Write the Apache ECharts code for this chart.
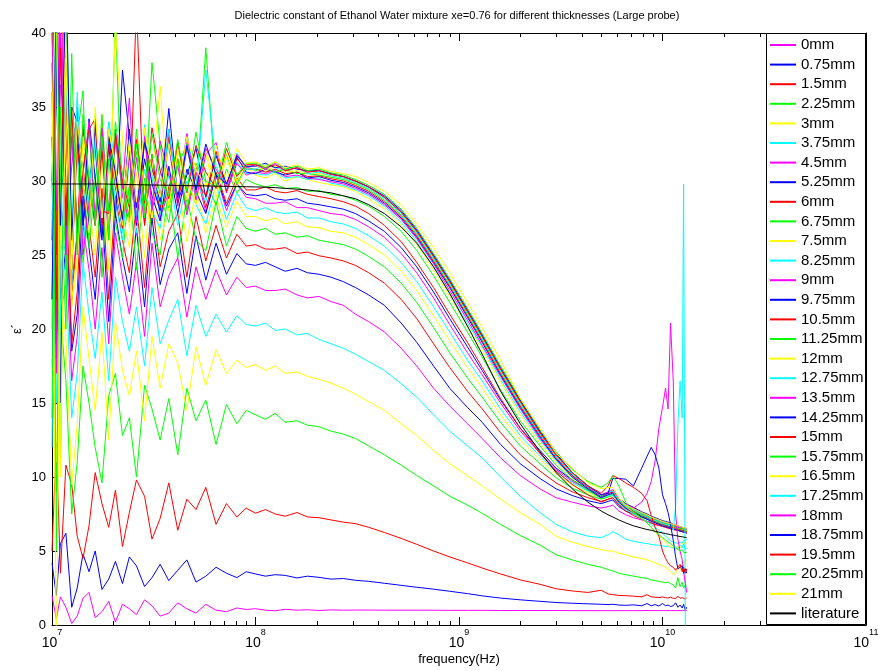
<!DOCTYPE html>
<html>
<head>
<meta charset="utf-8">
<script src="https://cdn.jsdelivr.net/npm/echarts/dist/echarts.min.js"></script>
<style>
html, body { margin: 0; padding: 0; background: #fff; }
#chart { width: 882px; height: 671px; }
</style>
</head>
<body>
<div id="chart"></div>
<script>
// Frequency grid in Hz: dense in the noisy first decade, finer again near the upper end.
const freqLow = [1.0e7, 1.05e7, 1.1e7, 1.17e7, 1.25e7, 1.33e7, 1.42e7, 1.52e7, 1.63e7, 1.76e7,
  1.9e7, 2.05e7, 2.22e7, 2.4e7, 2.6e7, 2.85e7, 3.1e7, 3.4e7, 3.75e7, 4.15e7,
  4.6e7, 5.1e7, 5.7e7, 6.4e7, 7.2e7, 8.1e7, 9.0e7];
const freqMid = [1.0e8, 1.12e8, 1.25e8, 1.4e8, 1.6e8, 1.8e8, 2.05e8, 2.35e8, 2.7e8, 3.1e8,
  3.6e8, 4.3e8, 5.2e8, 6.2e8, 7.5e8, 9.0e8, 1.1e9, 1.3e9, 1.6e9, 2.0e9,
  2.5e9, 3.0e9, 3.6e9, 4.3e9, 5.0e9, 5.4e9, 5.7e9, 6.1e9, 6.6e9, 7.2e9];
const freqTail = [7.9e9, 8.4e9, 8.8e9, 9.2e9, 9.6e9, 1.0e10, 1.035e10, 1.065e10, 1.095e10, 1.13e10,
  1.16e10, 1.19e10, 1.22e10, 1.25e10, 1.27e10, 1.295e10, 1.315e10];

// Legend labels (layer thickness)
const thickness = ['0mm', '0.75mm', '1.5mm', '2.25mm', '3mm', '3.75mm', '4.5mm', '5.25mm', '6mm',
  '6.75mm', '7.5mm', '8.25mm', '9mm', '9.75mm', '10.5mm', '11.25mm', '12mm', '12.75mm', '13.5mm',
  '14.25mm', '15mm', '15.75mm', '16.5mm', '17.25mm', '18mm', '18.75mm', '19.5mm', '20.25mm', '21mm'];

// Measured ε' per thickness (low decade | mid | tail)
const eps_0mm = [2.0, 0.4, 1.9, 1.2, 0.1, 0.6, 1.8, 2.2, 0.5, 0.9, 1.6, 0.2, 1.4, 1.1, 0.7, 1.7, 1.3, 0.6, 0.8, 1.5, 1.1, 0.8, 1.4, 1.0, 0.9, 1.15, 1.05,
  1.1, 1.0, 0.96, 1.06, 1.0, 1.03, 0.98, 1.02, 1.0, 1.01, 1.01, 1.0, 1.0, 1.0, 1.0, 0.99, 0.99, 0.99, 0.98, 0.98, 0.98, 0.98, 0.97, 0.97, 0.97, 0.97, 0.97, 0.97, 0.97, 0.97,
  0.97, 0.98, 0.97, 0.98, 0.97, 0.98, 0.97, 0.98, 0.97, 0.98, 0.97, 0.98, 0.97, 0.99, 0.97, 0.98, 0.98];
const eps_075mm = [4.2, 2.0, 5.5, 6.2, 1.2, 2.5, 4.8, 3.6, 5.0, 2.4, 3.1, 4.3, 2.8, 4.6, 4.0, 2.6, 3.2, 4.1, 3.0, 3.7, 4.4, 2.9, 3.3, 3.9, 3.5, 3.2, 3.6,
  3.45, 3.3, 3.4, 3.35, 3.18, 3.3, 3.22, 3.1, 3.14, 3.02, 2.95, 2.82, 2.68, 2.55, 2.42, 2.28, 2.12, 1.97, 1.82, 1.7, 1.6, 1.52, 1.47, 1.43, 1.4, 1.38, 1.4, 1.35, 1.33, 1.36,
  1.3, 1.45, 1.3, 1.38, 1.28, 1.45, 1.3, 1.35, 1.25, 1.3, 1.5, 1.2, 1.35, 1.15, 1.4, 1.0, 1.2];
const eps_15mm = [5.0, 12.3, 3.5, 10.8, 9.5, 6.0, 4.5, 6.7, 10.3, 8.2, 6.6, 9.1, 5.3, 7.6, 9.8, 8.7, 5.8, 7.2, 9.6, 6.4, 8.5, 7.8, 9.3, 6.8, 8.2, 7.3, 7.9,
  7.55, 7.8, 7.5, 7.35, 7.6, 7.3, 7.25, 7.1, 6.95, 6.85, 6.6, 6.25, 5.85, 5.45, 5.0, 4.6, 4.2, 3.85, 3.45, 3.05, 2.75, 2.45, 2.3, 2.2, 2.35, 2.1, 2.05, 2.0, 1.98, 1.95,
  1.9, 2.05, 1.9, 1.88, 1.85, 1.9, 1.85, 1.82, 1.88, 1.8, 1.78, 1.95, 1.8, 1.85, 1.95, 1.75, 1.85];
const eps_225mm = [18.0, 9.0, 21.0, 16.5, 7.5, 11.0, 17.5, 15.0, 12.0, 9.6, 15.5, 17.0, 12.8, 14.0, 10.0, 16.2, 14.6, 12.5, 15.3, 11.5, 16.0, 13.8, 15.2, 12.2, 14.9, 13.6, 14.5,
  14.2, 13.9, 14.3, 13.7, 13.8, 13.5, 13.4, 13.1, 12.9, 12.6, 12.1, 11.5, 10.8, 10.1, 9.4, 8.7, 8.1, 7.55, 6.8, 6.05, 5.4, 4.75, 4.4, 4.1, 3.9, 3.75, 3.65, 3.5, 3.4, 3.3,
  3.2, 3.15, 3.05, 3.0, 2.95, 2.9, 2.85, 2.9, 2.8, 2.7, 2.5, 3.2, 2.6, 2.9, 2.5, 2.7, 2.6];
const eps_3mm = [24.0, 11.0, 22.0, 19.5, 9.5, 13.5, 21.5, 18.0, 14.5, 19.8, 12.5, 20.5, 17.2, 15.5, 18.5, 13.8, 19.5, 16.0, 19.0, 17.7, 14.5, 18.8, 16.2, 18.6, 17.0, 17.9, 17.4,
  17.6, 17.2, 17.5, 17.0, 17.1, 16.8, 16.6, 16.35, 16.0, 15.6, 15.1, 14.5, 13.6, 12.8, 11.8, 10.9, 10.1, 9.4, 8.5, 7.6, 6.8, 6.0, 5.6, 5.3, 5.1, 5.0, 5.0, 4.85, 4.75, 4.6,
  4.5, 4.4, 4.3, 4.2, 4.1, 4.0, 3.9, 3.8, 3.6, 3.4, 3.5, 3.9, 3.7, 4.2, 4.0, 4.4, 4.3];
const eps_375mm = [28.0, 15.0, 26.0, 23.5, 14.0, 17.0, 24.5, 21.0, 18.0, 22.5, 16.5, 23.5, 20.5, 18.5, 21.5, 17.5, 22.8, 19.0, 20.6, 22.0, 18.2, 21.6, 19.5, 21.0, 19.8, 20.9, 20.3,
  20.2, 20.4, 19.9, 20.0, 19.6, 19.7, 19.3, 19.0, 18.7, 18.3, 17.8, 17.2, 16.3, 15.4, 14.2, 13.1, 12.1, 11.3, 10.0, 8.7, 7.6, 6.8, 6.3, 6.0, 5.9, 6.1, 6.3, 6.1, 5.8, 5.65,
  5.55, 5.5, 5.45, 5.4, 5.4, 5.35, 5.3, 5.35, 5.25, 5.2, 5.3, 5.15, 5.4, 5.2, 5.5, 5.1, 5.2];
const eps_45mm = [30.0, 17.0, 28.5, 26.0, 16.5, 19.5, 27.0, 24.0, 20.0, 25.5, 19.0, 26.5, 23.5, 21.0, 24.5, 19.5, 25.8, 21.5, 23.6, 24.8, 20.8, 24.2, 22.0, 24.0, 22.3, 23.5, 22.8,
  22.9, 22.6, 22.6, 22.7, 22.3, 22.1, 22.2, 21.85, 21.6, 21.0, 20.5, 19.8, 18.7, 17.5, 16.0, 14.8, 13.6, 12.6, 11.3, 10.1, 9.2, 8.6, 8.3, 8.05, 7.9, 8.0, 8.1, 7.7, 7.45, 7.25,
  7.1, 7.0, 6.9, 6.8, 6.75, 6.7, 6.6, 6.55, 6.5, 6.5, 6.45, 6.4, 6.35, 6.35, 6.3, 6.3, 6.25];
const eps_525mm = [33.0, 19.0, 31.0, 28.5, 18.5, 21.0, 29.0, 25.5, 22.0, 28.2, 20.5, 27.8, 24.8, 22.5, 26.8, 21.5, 27.5, 23.0, 25.4, 26.5, 22.4, 26.3, 23.3, 25.8, 23.7, 25.1, 24.4,
  24.3, 24.5, 24.2, 23.9, 24.1, 23.8, 23.7, 23.5, 23.2, 22.8, 22.3, 21.6, 20.4, 19.1, 17.5, 16.0, 14.7, 13.7, 12.2, 10.9, 9.9, 9.2, 8.75, 8.4, 8.2, 8.35, 8.45, 8.0, 7.7, 7.5,
  7.3, 7.15, 7.05, 6.95, 6.85, 6.8, 6.7, 6.65, 6.6, 6.55, 6.5, 6.45, 6.4, 6.4, 6.35, 6.35, 6.3];
const eps_6mm = [36.0, 20.0, 40.0, 30.0, 19.0, 22.5, 31.0, 27.0, 23.5, 29.5, 22.0, 29.0, 26.0, 23.8, 28.5, 22.8, 28.6, 24.2, 26.6, 27.8, 23.5, 27.6, 24.6, 27.0, 24.8, 26.4, 25.6,
  25.7, 25.4, 25.4, 25.5, 25.1, 25.2, 24.95, 24.8, 24.6, 24.3, 23.8, 23.1, 22.0, 20.7, 19.0, 17.4, 15.8, 14.6, 13.0, 11.5, 10.4, 9.6, 9.0, 8.6, 8.35, 8.5, 8.6, 8.15, 7.85, 7.6,
  7.4, 7.25, 7.1, 7.0, 6.9, 6.85, 6.75, 6.7, 6.65, 6.6, 6.55, 6.5, 6.45, 6.4, 6.4, 6.35, 6.3];
const eps_675mm = [22.0, 38.0, 21.0, 23.0, 33.5, 32.0, 24.5, 28.0, 30.5, 23.5, 31.5, 27.2, 24.8, 29.8, 24.0, 30.2, 26.5, 25.0, 29.5, 24.8, 28.9, 26.0, 25.3, 28.6, 25.6, 27.6, 26.8,
  26.6, 26.8, 26.4, 26.5, 26.2, 26.3, 26.0, 25.85, 25.7, 25.4, 24.9, 24.2, 23.1, 21.8, 20.1, 18.4, 16.7, 15.4, 13.7, 12.1, 10.9, 9.95, 9.25, 8.8, 8.5, 8.65, 8.75, 8.3, 7.95, 7.7,
  7.45, 7.3, 7.15, 7.05, 6.95, 6.9, 6.8, 6.75, 6.7, 6.65, 6.6, 6.55, 6.5, 6.45, 6.45, 6.4, 6.35];
const eps_75mm = [40.0, 23.0, 35.0, 33.0, 21.5, 24.5, 32.5, 28.5, 25.0, 31.8, 24.0, 31.0, 27.8, 25.5, 30.6, 24.8, 30.3, 26.0, 28.2, 29.8, 25.9, 29.5, 26.5, 28.9, 26.9, 28.6, 27.6,
  27.6, 27.3, 27.5, 27.1, 27.25, 26.9, 26.85, 26.6, 26.5, 26.2, 25.7, 25.0, 23.9, 22.6, 20.9, 19.2, 17.4, 16.0, 14.2, 12.5, 11.2, 10.2, 9.45, 8.95, 8.6, 8.75, 8.85, 8.4, 8.05, 7.8,
  7.5, 7.35, 7.2, 7.1, 7.0, 6.95, 6.85, 6.8, 6.75, 6.7, 6.65, 6.6, 6.55, 6.5, 6.5, 6.45, 6.4];
const eps_825mm = [25.0, 40.0, 24.0, 26.0, 34.0, 33.0, 25.5, 29.0, 32.0, 26.3, 32.8, 28.6, 26.0, 31.5, 26.5, 30.8, 28.0, 26.8, 30.5, 27.0, 30.0, 28.4, 27.1, 29.8, 27.4, 29.2, 28.2,
  28.0, 28.2, 27.9, 27.8, 27.9, 27.5, 27.5, 27.25, 27.1, 26.8, 26.3, 25.6, 24.5, 23.2, 21.5, 19.8, 17.9, 16.5, 14.6, 12.8, 11.4, 10.35, 9.6, 9.05, 8.65, 8.8, 8.9, 8.45, 8.1, 7.85,
  7.55, 7.4, 7.25, 7.15, 7.05, 6.95, 6.9, 6.85, 6.8, 6.7, 6.65, 6.6, 6.6, 6.55, 6.5, 6.5, 6.45];
const eps_9mm = [41.0, 24.0, 36.5, 34.0, 23.0, 26.5, 33.8, 29.5, 27.0, 32.5, 26.0, 33.5, 29.0, 27.2, 31.6, 27.0, 31.8, 27.5, 29.3, 31.0, 27.7, 30.6, 27.9, 30.4, 28.0, 29.8, 28.9,
  28.8, 28.5, 28.5, 28.6, 28.2, 28.2, 28.0, 27.8, 27.7, 27.4, 26.9, 26.2, 25.1, 23.8, 22.1, 20.3, 18.4, 16.9, 15.0, 13.1, 11.6, 10.5, 9.7, 9.15, 8.7, 8.85, 8.95, 8.5, 8.15, 7.9,
  7.6, 7.45, 7.3, 7.2, 7.1, 7.0, 6.95, 6.9, 6.85, 6.75, 6.7, 6.65, 6.6, 6.6, 6.55, 6.5, 6.5];
const eps_975mm = [26.0, 38.0, 22.0, 25.5, 35.0, 34.0, 27.0, 30.0, 32.5, 26.5, 33.0, 29.6, 26.8, 32.0, 27.5, 31.5, 29.0, 27.3, 31.0, 27.8, 30.8, 29.3, 27.8, 30.4, 28.3, 29.8, 29.1,
  29.0, 29.1, 28.8, 28.7, 28.8, 28.5, 28.4, 28.25, 28.1, 27.8, 27.3, 26.6, 25.5, 24.2, 22.5, 20.7, 18.8, 17.2, 15.2, 13.3, 11.8, 10.6, 9.8, 9.2, 8.75, 8.9, 9.0, 8.55, 8.2, 7.95,
  7.65, 7.5, 7.35, 7.25, 7.15, 7.05, 7.0, 6.95, 6.9, 6.8, 6.75, 6.7, 6.65, 6.6, 6.6, 6.55, 6.5];
const eps_105mm = [45, 26, 43, 34.5, 22, 26.5, 33.5, 30.0, 27.0, 32.0, 26.5, 33.0, 29.8, 27.5, 42.0, 27.0, 31.8, 27.8, 29.6, 31.5, 28.0, 31.0, 28.2, 30.6, 28.5, 30.2, 29.4,
  29.4, 29.6, 29.3, 29.2, 29.35, 29.1, 28.95, 28.8, 28.6, 28.3, 27.8, 27.0, 25.9, 24.5, 22.8, 21.0, 19.1, 17.4, 15.3, 13.3, 11.6, 10.4, 9.5, 8.8, 8.3, 8.5, 8.6, 8.1, 7.7, 7.4,
  7.15, 7.0, 6.9, 6.8, 6.72, 6.65, 6.6, 6.55, 6.5, 6.45, 6.4, 6.38, 6.35, 6.3, 6.28, 6.25, 6.2];
const eps_1125mm = [20, 45, 10, 41, 24, 33, 36.1, 25.5, 30.0, 33.5, 26.0, 41.0, 27.0, 29.6, 32.0, 27.5, 31.8, 29.0, 27.2, 31.5, 28.0, 31.2, 29.9, 28.4, 30.8, 29.2, 30.1,
  29.8, 29.6, 29.75, 29.5, 29.55, 29.3, 29.35, 29.1, 29.0, 28.7, 28.3, 27.6, 26.6, 25.3, 23.6, 21.8, 19.8, 18.1, 15.9, 13.8, 12.1, 10.8, 9.8, 9.1, 8.55, 8.75, 8.85, 8.35, 7.95, 7.65,
  7.35, 7.2, 7.05, 6.95, 6.85, 6.78, 6.72, 6.66, 6.6, 6.55, 6.5, 6.45, 6.42, 6.38, 6.35, 6.32, 6.3];
const eps_12mm = [41, 24, 44, 35, 22, 25, 33.0, 30.5, 28.0, 34.5, 26.5, 40.5, 32.8, 26.8, 33.5, 29.5, 27.5, 32.8, 28.0, 32.0, 30.2, 28.4, 31.8, 28.9, 31.6, 29.6, 31.0,
  30.4, 30.2, 30.5, 30.0, 30.3, 30.1, 29.9, 29.75, 29.6, 29.3, 28.8, 28.1, 27.0, 25.7, 24.0, 22.2, 20.2, 18.6, 16.4, 14.2, 12.3, 11.0, 9.9, 9.2, 8.6, 8.8, 8.9, 8.4, 8.0, 7.7,
  7.45, 7.3, 7.15, 7.05, 6.95, 6.85, 6.8, 6.75, 6.7, 6.6, 6.55, 6.5, 6.5, 6.45, 6.45, 6.4, 6.35];
const eps_1275mm = [12, 44, 30, 46, 23, 36, 26.0, 29.0, 34.5, 27.0, 33.0, 31.0, 26.5, 32.8, 27.5, 33.8, 30.2, 27.8, 32.5, 28.4, 33.2, 30.0, 28.6, 31.8, 29.4, 31.3, 30.5,
  30.5, 30.4, 30.6, 30.2, 30.3, 30.1, 30.2, 29.85, 29.7, 29.4, 29.0, 28.3, 27.2, 25.9, 24.2, 22.4, 20.4, 18.8, 16.6, 14.4, 12.5, 11.1, 10.0, 9.2, 8.6, 8.75, 8.8, 8.2, 7.8, 7.5,
  7.2, 7.0, 6.8, 6.6, 6.4, 6.2, 6.0, 5.85, 5.7, 5.6, 5.55, 5.5, 5.6, 5.5, 5.7, 5.6, 5.8];
const eps_135mm = [44, 18, 40, 26, 31, 35.0, 25.0, 28.5, 33.0, 26.5, 34.0, 30.5, 27.2, 32.0, 27.0, 33.2, 28.0, 30.5, 32.4, 28.3, 32.6, 28.7, 31.8, 32.6, 29.2, 31.2, 30.4,
  30.6, 30.5, 30.7, 30.3, 30.4, 30.2, 30.1, 29.95, 29.8, 29.5, 29.1, 28.4, 27.4, 26.1, 24.4, 22.6, 20.6, 18.9, 16.8, 14.6, 12.6, 11.2, 10.1, 9.3, 8.7, 8.9, 9.1, 8.5, 8.1, 7.8,
  7.5, 7.35, 7.2, 7.1, 7.0, 6.9, 6.85, 6.8, 6.75, 6.7, 6.65, 6.6, 6.55, 6.5, 6.5, 6.45, 6.45];
const eps_1425mm = [30, 42, 15, 38, 25, 33.5, 27.0, 34.2, 30.2, 26.0, 32.5, 27.5, 37.5, 33.0, 27.0, 32.8, 29.8, 28.0, 33.5, 28.6, 30.4, 32.2, 28.9, 31.7, 29.8, 31.6, 30.6,
  30.5, 30.8, 30.6, 30.4, 30.6, 30.2, 30.3, 30.05, 29.9, 29.6, 29.2, 28.5, 27.5, 26.2, 24.5, 22.8, 20.8, 19.1, 16.9, 14.7, 12.7, 11.2, 10.0, 9.2, 8.6, 8.8, 8.9, 8.3, 7.9, 7.6,
  7.3, 7.15, 7.0, 6.9, 6.8, 6.7, 6.65, 6.6, 6.55, 6.5, 6.45, 6.4, 6.35, 6.3, 6.3, 6.25, 6.2];
const eps_15mmB = [38, 22, 46, 36.8, 24, 32.5, 29.0, 26.5, 33.8, 27.0, 32.5, 30.2, 26.8, 33.5, 27.5, 32.6, 31.0, 28.2, 33.0, 28.5, 32.2, 30.1, 29.0, 32.0, 29.3, 31.5, 30.8,
  30.8, 30.6, 30.8, 30.5, 30.6, 30.3, 30.35, 30.15, 30.0, 29.7, 29.3, 28.6, 27.6, 26.3, 24.6, 22.9, 20.9, 19.2, 17.0, 14.8, 12.8, 11.3, 10.1, 9.3, 8.7, 8.9, 9.0, 8.4, 8.0, 7.7,
  7.4, 7.25, 7.1, 7.0, 6.9, 6.8, 6.75, 6.7, 6.65, 6.6, 6.55, 6.5, 6.45, 6.4, 6.4, 6.35, 6.3];
const eps_1575mm = [47, 5, 35, 24, 34, 26.0, 30.5, 33.5, 27.0, 34.5, 26.5, 32.6, 29.5, 27.5, 33.5, 28.0, 38.0, 32.4, 28.2, 31.0, 32.5, 29.0, 39.0, 29.5, 31.8, 29.8, 31.0,
  30.7, 30.9, 30.6, 30.8, 30.5, 30.5, 30.4, 30.25, 30.1, 29.8, 29.4, 28.7, 27.7, 26.4, 24.7, 23.0, 21.0, 19.3, 17.1, 14.9, 12.9, 11.4, 10.2, 9.35, 8.75, 8.95, 9.1, 8.5, 8.1, 7.8,
  7.5, 7.35, 7.2, 7.1, 7.0, 6.9, 6.85, 6.8, 6.75, 6.7, 6.6, 6.55, 6.5, 6.5, 6.45, 6.45, 6.4];
const eps_165mm = [36, -3, 28, 40, 25, 34.0, 30.0, 26.8, 33.0, 27.5, 34.0, 29.8, 27.0, 32.5, 28.0, 33.4, 30.3, 36.4, 28.3, 32.3, 28.7, 30.9, 32.2, 29.5, 31.9, 30.0, 31.2,
  31.0, 30.7, 31.0, 30.6, 30.7, 30.5, 30.5, 30.35, 30.2, 29.9, 29.5, 28.9, 27.9, 26.6, 24.9, 23.2, 21.2, 19.5, 17.3, 15.1, 13.0, 11.5, 10.3, 9.4, 8.8, 9.0, 9.1, 8.5, 8.0, 7.6,
  7.2, 6.9, 6.6, 6.3, 6.0, 5.8, 5.6, 5.4, 5.3, 5.2, 5.1, 5.3, 5.2, 5.5, 5.4, 5.6, 5.5];
const eps_1725mm = [26, 45, 20, 37, 27, 35.5, 30.0, 26.5, 33.0, 27.5, 34.0, 31.0, 28.0, 33.2, 27.6, 32.8, 30.5, 28.4, 33.5, 28.8, 32.4, 29.2, 37.5, 31.0, 29.6, 31.9, 30.8,
  30.8, 31.1, 30.9, 30.7, 30.9, 30.5, 30.6, 30.35, 30.2, 29.9, 29.5, 28.8, 27.8, 26.5, 24.8, 23.1, 21.1, 19.4, 17.2, 15.0, 12.9, 11.4, 10.2, 9.35, 8.75, 8.95, 9.05, 8.45, 8.05, 7.75,
  7.45, 7.3, 7.15, 7.05, 6.95, 6.85, 6.8, 6.75, 6.7, 6.4, 8.0, 13.5, 16.5, 14.0, 29.8, -1, null];
const eps_18mm = [40, 28, 46, 25, 33, 27.0, 30.5, 34.0, 27.5, 33.6, 28.0, 32.8, 29.5, 35.6, 27.2, 33.0, 28.3, 32.7, 30.4, 28.8, 33.2, 29.2, 32.2, 30.8, 29.6, 31.8, 30.9,
  31.1, 30.8, 31.2, 30.7, 30.9, 30.6, 30.7, 30.45, 30.3, 30.0, 29.6, 28.9, 27.9, 26.6, 24.9, 23.2, 21.2, 19.5, 17.3, 15.1, 13.0, 11.5, 10.3, 9.4, 8.8, 9.0, 9.15, 8.55, 8.15, 7.9,
  8.3, 8.9, 9.7, 11.1, 13.3, 14.7, 16.0, 14.6, 20.4, 16.4, 7.5, 5.8, 5.0, 4.4, 3.6, 2.8, 2.2];
const eps_1875mm = [22, 43, 27, 44, 26, 33.8, 30.5, 27.0, 34.0, 27.8, 33.0, 30.6, 27.4, 33.5, 28.2, 32.6, 30.8, 28.6, 34.9, 28.9, 32.4, 29.4, 32.5, 30.4, 29.8, 31.7, 31.0,
  31.0, 31.2, 30.9, 31.0, 30.8, 30.7, 30.7, 30.5, 30.3, 30.0, 29.6, 29.0, 28.0, 26.7, 25.0, 23.3, 21.3, 19.6, 17.4, 15.2, 13.1, 11.6, 10.3, 9.4, 8.8, 8.9, 9.9, 9.9, 9.85, 9.4,
  10.6, 11.4, 12.0, 11.5, 10.6, 8.8, 8.2, 7.6, 6.8, 5.7, 4.6, 3.8, 3.9, 4.0, 3.5, 3.8, 3.5];
const eps_195mm = [46, 25, 39, 27, 35, 26.5, 30.8, 33.5, 34.2, 28.0, 27.8, 33.2, 30.0, 28.2, 32.8, 28.5, 33.6, 30.7, 28.8, 32.6, 29.2, 32.4, 30.6, 29.5, 32.2, 30.3, 31.1,
  31.1, 30.9, 31.1, 30.7, 30.9, 30.6, 30.7, 30.45, 30.3, 30.0, 29.6, 28.9, 27.9, 26.6, 24.9, 23.2, 21.2, 19.5, 17.3, 15.1, 13.0, 11.5, 10.3, 9.4, 8.9, 9.4, 10.1, 9.9, 9.6, 9.3,
  8.9, 8.4, 7.4, 6.6, 6.0, 5.0, 4.5, 4.2, 4.0, 3.9, 3.7, 3.9, 4.1, 3.6, 3.9, 3.5, 3.8];
const eps_2025mm = [14, 40, 30, 20, 38.6, 25.0, 34.5, 30.2, 27.5, 33.0, 28.0, 34.0, 30.5, 28.4, 32.5, 28.7, 33.2, 30.1, 29.0, 32.8, 29.3, 33.3, 30.0, 29.6, 32.6, 30.4, 31.2,
  31.2, 30.9, 31.3, 30.8, 31.0, 30.7, 30.8, 30.55, 30.4, 30.1, 29.7, 29.1, 28.1, 26.8, 25.1, 23.4, 21.4, 19.7, 17.5, 15.3, 13.2, 11.7, 10.5, 9.7, 9.3, 9.6, 10.1, 9.4, 8.3, 7.6,
  7.2, 6.9, 6.6, 6.3, 6.1, 5.9, 5.75, 5.6, 5.5, 5.35, 5.2, 5.1, 5.0, 5.1, 4.9, 5.0, 4.9];
const eps_21mm = [33, 46, 10, 38.3, 24, 34.0, 30.6, 26.5, 35.0, 27.5, 33.5, 31.0, 28.0, 32.8, 28.6, 33.6, 30.6, 28.9, 32.5, 29.3, 33.0, 30.8, 29.6, 32.4, 30.0, 32.2, 31.2,
  31.3, 31.0, 31.3, 30.9, 31.1, 30.8, 30.9, 30.65, 30.5, 30.3, 29.9, 29.3, 28.4, 27.1, 25.5, 23.8, 21.8, 20.1, 17.9, 15.3, 13.3, 11.6, 10.6, 9.6, 9.2, 9.3, 9.3, 8.6, 8.1, 7.85,
  7.6, 7.45, 7.3, 7.2, 7.1, 7.0, 6.95, 6.9, 6.85, 6.8, 6.75, 6.7, 6.65, 6.6, 6.6, 6.55, 6.5];

// Reference values from the literature
const literature = [29.8, 29.8, 29.8, 29.8, 29.8, 29.8, 29.8, 29.8, 29.8, 29.8, 29.79, 29.78, 29.77, 29.76, 29.75, 29.74, 29.73, 29.72, 29.71, 29.7, 29.69, 29.68, 29.67, 29.65, 29.64, 29.62, 29.61,
  29.6, 29.58, 29.55, 29.5, 29.45, 29.4, 29.3, 29.2, 29.0, 28.8, 28.4, 27.8, 26.9, 25.8, 24.2, 22.4, 20.2, 18.3, 15.8, 13.6, 11.7, 10.3, 9.2, 8.3, 7.7, 7.45, 7.3, 7.1, 6.9, 6.7,
  6.55, 6.45, 6.4, 6.33, 6.27, 6.22, 6.18, 6.14, 6.1, 6.07, 6.04, 6.01, 5.98, 5.96, 5.94, 5.92, 5.9];

const measured = [eps_0mm, eps_075mm, eps_15mm, eps_225mm, eps_3mm, eps_375mm, eps_45mm, eps_525mm,
  eps_6mm, eps_675mm, eps_75mm, eps_825mm, eps_9mm, eps_975mm, eps_105mm, eps_1125mm, eps_12mm,
  eps_1275mm, eps_135mm, eps_1425mm, eps_15mmB, eps_1575mm, eps_165mm, eps_1725mm, eps_18mm,
  eps_1875mm, eps_195mm, eps_2025mm, eps_21mm];

// Line colour cycle
const colorCycle = ['#ff00ff', '#0000ff', '#ff0000', '#00ff00', '#ffff00', '#00ffff'];

// Minor tick positions on the logarithmic frequency axis
const xMinorTicks = [2e7, 3e7, 4e7, 5e7, 6e7, 7e7, 8e7, 9e7,
  2e8, 3e8, 4e8, 5e8, 6e8, 7e8, 8e8, 9e8,
  2e9, 3e9, 4e9, 5e9, 6e9, 7e9, 8e9, 9e9,
  2e10, 3e10, 4e10, 5e10, 6e10, 7e10, 8e10, 9e10];

const freq = freqLow.concat(freqMid, freqTail);
const FONT = '"Liberation Sans", Arial, Helvetica, sans-serif';

function lineSeries(name, vals, color) {
  return {
    name: name,
    type: 'line',
    data: freq.map((f, i) => [f, vals[i]]),
    symbol: 'none',
    showSymbol: false,
    silent: true,
    clip: true,
    lineStyle: { width: 1, color: color },
    itemStyle: { color: color },
    emphasis: { disabled: true }
  };
}

const series = measured.map((vals, k) => lineSeries(thickness[k], vals, colorCycle[k % colorCycle.length]));
series.push(lineSeries('literature', literature, '#000000'));

// Minor ticks drawn inward on the bottom and top edges
series.push({
  type: 'custom',
  silent: true,
  clip: false,
  z: 5,
  data: xMinorTicks.map(f => [f, 0]),
  encode: { x: 0, y: 1 },
  renderItem: function (params, api) {
    const b = api.coord([api.value(0), 0]);
    const t = api.coord([api.value(0), 40]);
    const x = Math.round(b[0]) + 0.5;
    return {
      type: 'group',
      children: [
        { type: 'line', shape: { x1: x, y1: b[1], x2: x, y2: b[1] - 4 }, style: { stroke: '#000', lineWidth: 1 } },
        { type: 'line', shape: { x1: x, y1: t[1], x2: x, y2: t[1] + 4 }, style: { stroke: '#000', lineWidth: 1 } }
      ]
    };
  }
});

const axisLineStyle = { show: true, onZero: false, lineStyle: { color: '#000', width: 1 } };

const option = {
  animation: false,
  backgroundColor: '#ffffff',
  grid: { left: 52, right: 16, top: 33, bottom: 46, containLabel: false, outerBoundsMode: 'none' },
  xAxis: [
    {
      type: 'log', logBase: 10, min: 1e7, max: 1e11,
      position: 'bottom',
      axisLine: axisLineStyle,
      axisTick: { show: true, inside: true, length: 8, lineStyle: { color: '#000' } },
      splitLine: { show: false },
      axisLabel: {
        margin: 3,
        color: '#000',
        fontFamily: FONT,
        formatter: v => '{b|10}{e|' + Math.round(Math.log10(v)) + '}',
        rich: {
          b: { fontSize: 14, lineHeight: 22, verticalAlign: 'bottom', fontFamily: FONT, color: '#000' },
          e: { fontSize: 9, lineHeight: 10, verticalAlign: 'top', fontFamily: FONT, color: '#000' }
        }
      }
    },
    {
      type: 'log', logBase: 10, min: 1e7, max: 1e11,
      position: 'top',
      axisLine: axisLineStyle,
      axisTick: { show: true, inside: true, length: 8, lineStyle: { color: '#000' } },
      axisLabel: { show: false },
      splitLine: { show: false }
    }
  ],
  yAxis: [
    {
      type: 'value', min: 0, max: 40, interval: 5,
      position: 'left',
      axisLine: axisLineStyle,
      axisTick: { show: true, inside: true, length: 6, lineStyle: { color: '#000' } },
      splitLine: { show: false },
      axisLabel: { margin: 6, fontSize: 13, color: '#000', fontFamily: FONT }
    },
    {
      type: 'value', min: 0, max: 40, interval: 5,
      position: 'right',
      axisLine: axisLineStyle,
      axisTick: { show: true, inside: true, length: 6, lineStyle: { color: '#000' } },
      splitLine: { show: false },
      axisLabel: { show: false }
    }
  ],
  legend: {
    orient: 'vertical',
    left: 769,
    top: 37.5,
    padding: 0,
    itemWidth: 26,
    itemHeight: 14,
    itemGap: 4.6,
    selectedMode: false,
    z: 101,
    data: thickness.concat(['literature']),
    itemStyle: { opacity: 0 },
    textStyle: { fontSize: 15, lineHeight: 15, color: '#000', fontFamily: FONT }
  },
  graphic: [
    {
      type: 'rect',
      z: 100,
      silent: true,
      shape: { x: 766.5, y: 33.5, width: 99, height: 591 },
      style: { fill: '#ffffff', stroke: '#000000', lineWidth: 1 }
    },
    {
      type: 'text',
      z: 100,
      silent: true,
      x: 457,
      y: 16,
      style: {
        text: 'Dielectric constant of Ethanol Water mixture xe=0.76 for different thicknesses (Large probe)',
        font: '11px ' + FONT,
        fill: '#000',
        align: 'center',
        verticalAlign: 'middle'
      }
    },
    {
      type: 'text',
      z: 100,
      silent: true,
      x: 459,
      y: 659,
      style: {
        text: 'frequency(Hz)',
        font: '13px ' + FONT,
        fill: '#000',
        align: 'center',
        verticalAlign: 'middle'
      }
    },
    {
      type: 'text',
      z: 100,
      silent: true,
      x: 17,
      y: 329,
      rotation: Math.PI / 2,
      style: {
        text: 'ε´',
        font: '13px ' + FONT,
        fill: '#000',
        align: 'center',
        verticalAlign: 'middle'
      }
    }
  ],
  series: series
};

const chart = echarts.init(document.getElementById('chart'), null, { renderer: 'canvas' });
chart.setOption(option);
</script>
</body>
</html>
